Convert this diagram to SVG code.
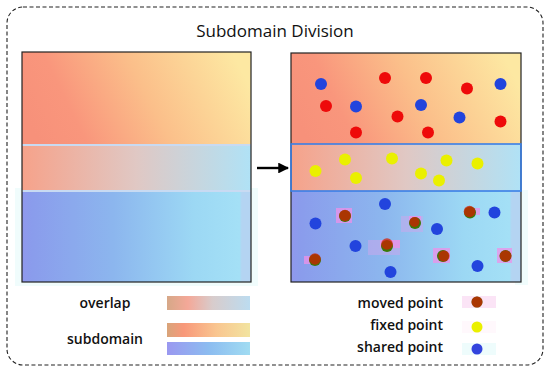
<svg xmlns="http://www.w3.org/2000/svg" width="550" height="371" viewBox="0 0 550 371">
<defs>
<linearGradient id="warm" x1="0" y1="0.6" x2="1" y2="0.4">
<stop offset="0" stop-color="#f7917a"/>
<stop offset="0.2" stop-color="#f9967c"/>
<stop offset="0.55" stop-color="#fbbf8a"/>
<stop offset="1" stop-color="#fde8a2"/>
</linearGradient>
<linearGradient id="over" x1="0" y1="0" x2="1" y2="0">
<stop offset="0" stop-color="#f6a28a"/>
<stop offset="0.5" stop-color="#e0c8c4"/>
<stop offset="1" stop-color="#b0e2f6"/>
</linearGradient>
<linearGradient id="cool" x1="0" y1="0" x2="1" y2="0">
<stop offset="0" stop-color="#9098ee"/>
<stop offset="0.04" stop-color="#8a9cec"/>
<stop offset="0.4" stop-color="#8cb6ee"/>
<stop offset="0.75" stop-color="#9cd8f4"/>
<stop offset="0.95" stop-color="#a4e0f6"/>
<stop offset="0.96" stop-color="#b4d4f2"/>
<stop offset="1" stop-color="#b4d4f2"/>
</linearGradient>
<linearGradient id="lgOver" x1="0" y1="0" x2="1" y2="0">
<stop offset="0" stop-color="#d6a888"/>
<stop offset="0.25" stop-color="#f4a898"/>
<stop offset="0.55" stop-color="#d8cccc"/>
<stop offset="1" stop-color="#bcdcf0"/>
</linearGradient>
<linearGradient id="lgWarm" x1="0" y1="0" x2="1" y2="0">
<stop offset="0" stop-color="#d8a47a"/>
<stop offset="0.2" stop-color="#f8987a"/>
<stop offset="0.6" stop-color="#f9c690"/>
<stop offset="1" stop-color="#f2e4a0"/>
</linearGradient>
<linearGradient id="lgCool" x1="0" y1="0" x2="1" y2="0">
<stop offset="0" stop-color="#9a98f0"/>
<stop offset="0.5" stop-color="#8cbcf0"/>
<stop offset="1" stop-color="#a0dcf2"/>
</linearGradient>
<marker id="arrow" viewBox="0 0 10 10" refX="9" refY="5" markerWidth="4.5" markerHeight="4.5" orient="auto" markerUnits="strokeWidth">
<path d="M0,0 L10,5 L0,10 z" fill="#000"/>
</marker>
</defs>
<style>
.frame{fill:none;stroke:#222;stroke-width:1.1;stroke-dasharray:4 2.5}
.title{font-family:"Open Sans","Liberation Sans",sans-serif;font-size:17px;font-weight:500;fill:#111}
.lbl{font-family:"Open Sans","Liberation Sans",sans-serif;font-size:14px;font-weight:600;fill:#111}
.panel{fill:none;stroke:#222;stroke-width:1.2}
.sep{stroke:#c8daf2;stroke-width:2}
.ovb{fill:none;stroke:#3a7fe6;stroke-width:1.6}
.blue{fill:#2244dd}
.red{fill:#ee0a0a}
.yel{fill:#eaf000}
.grn{fill:#3a7a08}
.mov{fill:#d61c00;fill-opacity:0.72}
.pink{fill:#ee90e8;fill-opacity:0.75}
.lav{fill:#c8a8ec;fill-opacity:0.55}
.halo{fill:#f0fcfc}
</style>
<rect class="frame" x="7" y="7" width="536" height="358" rx="16"/>
<text class="title" x="275" y="37" text-anchor="middle">Subdomain Division</text>

<g id="left-panel">
<rect class="halo" x="15" y="188" width="243" height="98"/>
<rect x="22" y="52" width="229" height="93" fill="url(#warm)"/>
<rect x="22" y="145" width="229" height="46" fill="url(#over)"/>
<rect x="22" y="191" width="229" height="91" fill="url(#cool)"/>
<line class="sep" x1="22" y1="145" x2="251" y2="145"/>
<line class="sep" x1="22" y1="191" x2="251" y2="191"/>
<rect class="panel" x="22" y="52" width="229" height="230"/>
</g>

<g id="connectors">
<line x1="257" y1="168" x2="288" y2="168" stroke="#000" stroke-width="2.4" marker-end="url(#arrow)"/>
</g>

<g id="right-panel">
<rect class="halo" x="515" y="190" width="13" height="95"/>
<rect x="291" y="53" width="230" height="91" fill="url(#warm)"/>
<rect x="291" y="144" width="230" height="47" fill="url(#over)"/>
<rect x="291" y="191" width="230" height="91" fill="url(#cool)"/>
<rect class="panel" x="291" y="53" width="230" height="229"/>
<rect class="ovb" x="291" y="144" width="230" height="47"/>
<g id="shared-top">
<circle class="blue" cx="321" cy="84" r="6"/>
<circle class="blue" cx="356" cy="106.5" r="6"/>
<circle class="blue" cx="421" cy="105" r="6"/>
<circle class="blue" cx="459.5" cy="117.5" r="6"/>
<circle class="blue" cx="500.5" cy="84" r="6"/>
</g>
<g id="points-top">
<circle class="red" cx="385" cy="78" r="6"/>
<circle class="red" cx="426" cy="78" r="6"/>
<circle class="red" cx="467" cy="88.5" r="6"/>
<circle class="red" cx="326" cy="106" r="6"/>
<circle class="red" cx="397.5" cy="116.5" r="6"/>
<circle class="red" cx="356" cy="132.5" r="6"/>
<circle class="red" cx="428" cy="132.5" r="6"/>
<circle class="red" cx="500.5" cy="121.5" r="6"/>
</g>
<g id="fixed-points">
<circle class="yel" cx="345" cy="159.5" r="6"/>
<circle class="yel" cx="392" cy="158.5" r="6"/>
<circle class="yel" cx="446.5" cy="160.5" r="6"/>
<circle class="yel" cx="477.5" cy="163.5" r="6"/>
<circle class="yel" cx="315.5" cy="171" r="6"/>
<circle class="yel" cx="356" cy="178" r="6"/>
<circle class="yel" cx="421" cy="173.5" r="6"/>
<circle class="yel" cx="439" cy="180.5" r="6"/>
</g>
<g id="shared-bottom">
<circle class="blue" cx="385" cy="204" r="6"/>
<circle class="blue" cx="315.5" cy="223.5" r="6"/>
<circle class="blue" cx="494.5" cy="212.5" r="6"/>
<circle class="blue" cx="437" cy="229" r="6"/>
<circle class="blue" cx="355.5" cy="246" r="6"/>
<circle class="blue" cx="477.5" cy="266" r="6"/>
<circle class="blue" cx="390.5" cy="272" r="6"/>
</g>
<g id="moved-points">
<rect class="pink" x="336" y="208" width="16" height="15"/>
<circle class="grn" cx="345" cy="216" r="6"/>
<circle class="mov" cx="345" cy="215.5" r="5.8"/>

<rect class="lav" x="401" y="216" width="22" height="16"/>
<rect class="pink" x="409" y="216" width="12" height="8"/>
<circle class="grn" cx="415" cy="223" r="6"/>
<circle class="mov" cx="414.5" cy="222" r="5" fill-opacity="0.45"/>

<rect class="lav" x="368" y="240" width="32" height="15"/>
<rect class="pink" x="380" y="240" width="20" height="8"/>
<circle class="grn" cx="387" cy="246" r="6"/>
<circle class="mov" cx="387" cy="244" r="5.8"/>

<rect class="pink" x="304" y="256" width="14" height="8"/>
<circle class="grn" cx="315" cy="260" r="6"/>
<circle class="mov" cx="315" cy="259" r="5.8" fill-opacity="0.9"/>

<rect class="pink" x="465" y="208" width="15" height="7"/>
<circle class="grn" cx="470" cy="212.5" r="6"/>
<circle class="mov" cx="469.5" cy="211.5" r="5.8" fill-opacity="0.9"/>

<rect class="pink" x="433" y="248" width="17" height="15"/>
<circle class="grn" cx="443" cy="256" r="6"/>
<circle class="mov" cx="444" cy="256" r="5.6"/>

<rect class="pink" x="497" y="248" width="15" height="15"/>
<circle class="grn" cx="505.5" cy="256" r="6"/>
<circle class="mov" cx="505.5" cy="256" r="5.8"/>
</g>
</g>

<g id="legend-overlap">
<text class="lbl" x="105" y="308" text-anchor="middle">overlap</text>
<rect x="167" y="296" width="83" height="14" fill="url(#lgOver)"/>
</g>
<g id="legend-subdomain">
<text class="lbl" x="105" y="344" text-anchor="middle">subdomain</text>
<rect x="167" y="323" width="83" height="14" fill="url(#lgWarm)"/>
<rect x="167" y="342" width="83" height="13" fill="url(#lgCool)"/>
</g>
<g id="legend-moved">
<text class="lbl" x="443" y="308" text-anchor="end">moved point</text>
<rect x="462" y="296" width="34" height="12" fill="#fbe4f6"/>
<circle class="grn" cx="477" cy="302" r="5.5"/>
<circle class="mov" cx="477" cy="302" r="5.5"/>
</g>
<g id="legend-fixed">
<text class="lbl" x="443" y="330" text-anchor="end">fixed point</text>
<rect x="462" y="321" width="34" height="12" fill="#fff8fc"/>
<circle class="yel" cx="477" cy="327" r="5.5"/>
</g>
<g id="legend-shared">
<text class="lbl" x="443" y="352" text-anchor="end">shared point</text>
<rect x="462" y="343" width="34" height="12" fill="#eefcfc"/>
<circle cx="477" cy="349" r="5.5" fill="#3344dd"/>
</g>
</svg>
